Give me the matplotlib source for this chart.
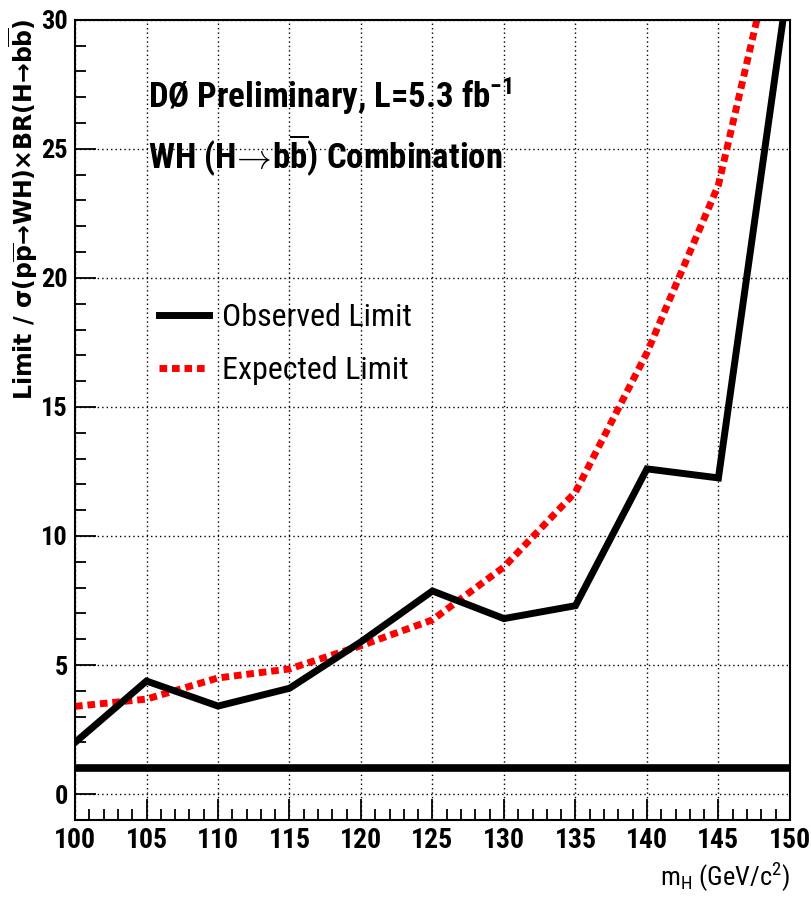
import numpy as np
import matplotlib
matplotlib.use("Agg")
import matplotlib.pyplot as plt
from matplotlib import font_manager
from matplotlib.ticker import MultipleLocator

# WH (H->bb) combined limits vs Higgs mass
mass = [100, 105, 110, 115, 120, 125, 130, 135, 140, 145, 150]
observed = [2.0, 4.38, 3.41, 4.1, 5.9, 7.87, 6.8, 7.3, 12.6, 12.25, 31.9]
expected = [3.4, 3.68, 4.5, 4.85, 5.75, 6.75, 8.8, 11.7, 17.1, 23.6, 35.5]
sm_line = 1.0

xticks = list(range(100, 151, 5))
yticks = [0, 5, 10, 15, 20, 25, 30]

# pick a narrow helvetica-like face if there is one
wanted = ['Nimbus Sans Narrow', 'Liberation Sans Narrow', 'Arial Narrow',
          'Roboto Condensed', 'Archivo Narrow', 'PT Sans Narrow', 'Liberation Sans']
have = set(f.name for f in font_manager.fontManager.ttflist)
face = next((n for n in wanted if n in have), 'DejaVu Sans')

plt.rcParams['font.family'] = [face, 'Liberation Sans', 'DejaVu Sans']
plt.rcParams['mathtext.fontset'] = 'custom'
plt.rcParams['mathtext.rm'] = face
plt.rcParams['mathtext.bf'] = face + ':bold'
plt.rcParams['mathtext.it'] = face + ':italic'

fig = plt.figure(figsize=(8.11, 9.0), dpi=100)
ax = fig.add_axes([0.0925, 0.089, 0.8815, 0.889])

ax.set_xlim(100, 150)
ax.set_ylim(-1, 30)

ax.grid(True, which='major', color='black', linestyle=(0, (1, 2.2)), linewidth=1.0)
ax.set_axisbelow(True)

ax.axhline(sm_line, color='black', linewidth=5.5, solid_capstyle='butt')
ax.plot(mass, expected, color='#ff0000', linewidth=5,
        linestyle=(0, (1.1, 0.7)), dash_capstyle='butt', label='Expected Limit')
ax.plot(mass, observed, color='black', linewidth=5,
        solid_joinstyle='miter', label='Observed Limit')

ax.set_xticks(xticks)
ax.set_yticks(yticks)
ax.xaxis.set_minor_locator(MultipleLocator(1))
ax.yaxis.set_minor_locator(MultipleLocator(1))
ax.tick_params(which='major', direction='in', length=15, width=1.3,
               labelsize=20, pad=5, top=False, right=False)
ax.tick_params(axis='y', which='major', labelsize=19)
ax.tick_params(which='minor', direction='in', length=8, width=1.3,
               top=False, right=False)
for lab in ax.get_xticklabels() + ax.get_yticklabels():
    lab.set_fontweight('bold')
for sp in ax.spines.values():
    sp.set_linewidth(1.5)

ax.text(0.102, 0.905, 'DØ Preliminary, L=5.3 fb$^{\\mathbf{-1}}$', transform=ax.transAxes,
        fontsize=25, fontweight='bold', va='center', ha='left')
ax.text(0.102, 0.83, 'WH (H$\\mathbf{\\!\\rightarrow\\!}$b$\\mathbf{\\overline{b}}$) Combination',
        transform=ax.transAxes, fontsize=25, fontweight='bold', va='center', ha='left')

h, l = ax.get_legend_handles_labels()
ax.legend(h[::-1], l[::-1], loc='upper left', bbox_to_anchor=(0.1, 0.662),
          frameon=False, fontsize=23, handlelength=1.55, handletextpad=0.4,
          labelspacing=0.75, borderaxespad=0)

# y title placed by hand, top end flush with the frame
fig.text(23 / 811, 1 - 18 / 900,
         'Limit / σ(p$\\mathbf{\\overline{p}}$→WH)×BR(H→b$\\mathbf{\\overline{b}}$)',
         rotation=90, ha='center', va='top', fontsize=17, fontweight='bold',
         family='DejaVu Sans', math_fontfamily='dejavusans')
ax.set_xlabel('m$_{\\mathrm{H}}$ (GeV/c$^{2}$)', fontsize=19, loc='right', labelpad=5)

fig.savefig('out.png', dpi=100)
